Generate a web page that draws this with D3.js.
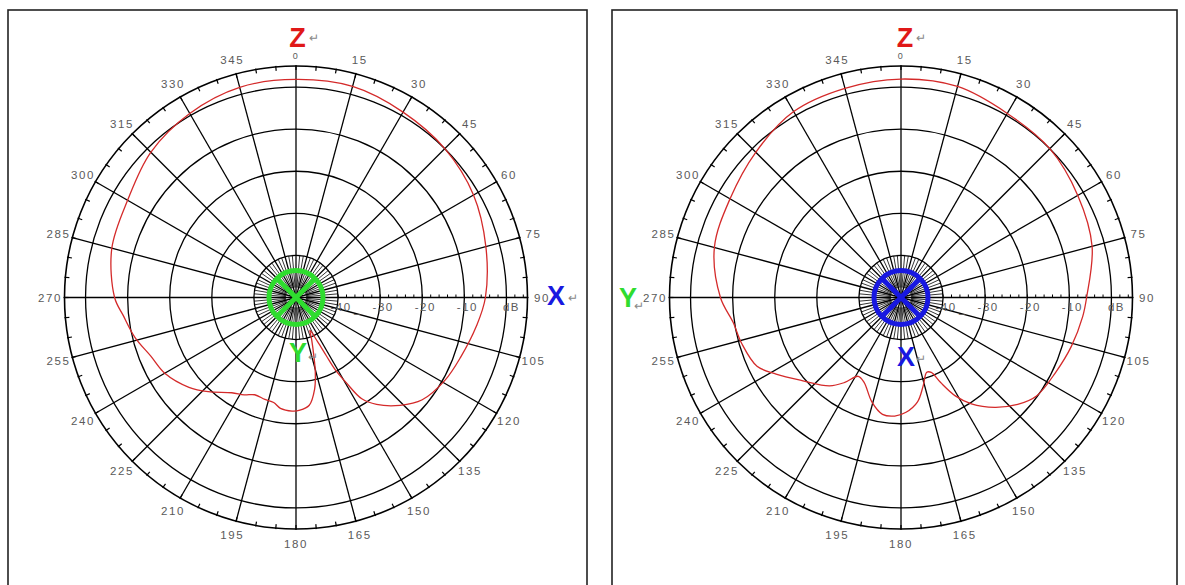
<!DOCTYPE html>
<html>
<head>
<meta charset="utf-8">
<script src="https://cdn.jsdelivr.net/npm/d3@7"></script>
<style>
  body { margin: 0; background: #fff; }
  svg { display: block; font-family: "Liberation Sans", Arial, sans-serif; }
</style>
</head>
<body>
<svg id="chart" width="1185" height="585"></svg>
<script>
// angle labels and dB rings
var angleTicks = d3.range(0, 360, 15);
var dbRings = [-40, -30, -20, -10, 0];
var dbLabels = ["-40", "-30", "-20", "-10", "dB"];

// left plot: Z-X plane (Y axis out of page)
var leftAngles = [0, 15, 30, 45, 60, 75, 90, 99, 110, 119, 129, 136, 143, 147, 149.5, 151.5, 152.5, 154, 157, 159.5, 163, 165.5, 168.5, 173, 178, 182, 188, 192, 197, 203, 208, 214, 223, 230, 240, 248, 256, 264, 270, 285, 300, 315, 330, 345];
var leftDb = [1.8, 1.9, 0.85, 0, -1.3, -3.3, -5.0, -6.6, -8.4, -9.5, -11.4, -14.4, -18.2, -21.3, -26.6, -30.6, -34.4, -38.4, -41.5, -39.4, -35.5, -31.7, -27.8, -24.2, -23.2, -23.0, -23.4, -24.5, -24.7, -24.9, -23.8, -22.7, -19.4, -16.8, -14.0, -12.8, -10.6, -8.75, -6.9, -4.7, -3.8, -1.2, 0.5, 1.7];

// right plot: Z-Y plane (X axis out of page)
var rightAngles = [0, 15, 30, 45, 60, 75, 90, 96, 106, 116, 126, 132.5, 139.5, 146.5, 151, 155, 158, 161, 166, 171, 177.5, 183, 189, 195.5, 203.5, 208.5, 213.5, 219, 230, 238.5, 244.5, 254, 261.5, 270, 285, 300, 315, 330, 345];
var rightDb = [1.9, 1.9, 0.5, 0, -1.5, -3.0, -5.9, -6.6, -7.9, -9.2, -10.2, -12.4, -15.7, -19.7, -23.2, -27.7, -30.8, -31.2, -28.3, -24.9, -22.7, -21.8, -21.9, -24.2, -28.0, -28.7, -25.8, -23.0, -19.3, -15.2, -12.1, -10.6, -9.7, -7.1, -4.1, -3.1, -1.2, 1.0, 1.45];

var svg = d3.select("#chart");
var rad = function(a) { return a * Math.PI / 180; };

var r = d3.scaleLinear().domain([-50, 5]).range([0, 231.5]);
var R = r(5);

// panel frames
svg.append("rect").attr("x", 8).attr("y", 10).attr("width", 579).attr("height", 590)
  .attr("fill", "none").attr("stroke", "#222").attr("stroke-width", 1.6);
svg.append("rect").attr("x", 612).attr("y", 10).attr("width", 565).attr("height", 590)
  .attr("fill", "none").attr("stroke", "#222").attr("stroke-width", 1.6);

function drawPanel(cx, cy, angles, dbs, markColor, axisLabels) {
  var g = svg.append("g").attr("transform", "translate(" + cx + "," + cy + ")");

  // rings
  g.selectAll(".ring").data(dbRings.concat([5])).enter().append("circle")
    .attr("r", function(d) { return r(d); })
    .attr("fill", "none").attr("stroke", "#000")
    .attr("stroke-width", function(d) { return d == 5 ? 1.6 : 1.3; });

  // spokes every 15 deg
  g.selectAll(".spoke").data(angleTicks).enter().append("line")
    .attr("x1", 0).attr("y1", 0)
    .attr("x2", function(d) { return R * Math.sin(rad(d)); })
    .attr("y2", function(d) { return -R * Math.cos(rad(d)); })
    .attr("stroke", "#000").attr("stroke-width", 1.3);

  // fine spokes inside the -40 ring
  g.selectAll(".fine").data(d3.range(0, 360, 5).filter(function(d) { return d % 15 != 0; }))
    .enter().append("line")
    .attr("x1", function(d) { return 10 * Math.sin(rad(d)); })
    .attr("y1", function(d) { return -10 * Math.cos(rad(d)); })
    .attr("x2", function(d) { return r(-40) * Math.sin(rad(d)); })
    .attr("y2", function(d) { return -r(-40) * Math.cos(rad(d)); })
    .attr("stroke", "#000").attr("stroke-width", 0.8);

  // ticks on outer ring
  g.selectAll(".otick").data(d3.range(0, 360, 5)).enter().append("line")
    .attr("x1", function(d) { return (R - 4) * Math.sin(rad(d)); })
    .attr("y1", function(d) { return -(R - 4) * Math.cos(rad(d)); })
    .attr("x2", function(d) { return (R + 1) * Math.sin(rad(d)); })
    .attr("y2", function(d) { return -(R + 1) * Math.cos(rad(d)); })
    .attr("stroke", "#000").attr("stroke-width", 1.2);

  // small ticks along the 90 deg radial axis
  g.selectAll(".rtick").data(d3.range(-40, 5, 2)).enter().append("line")
    .attr("x1", function(d) { return r(d); }).attr("x2", function(d) { return r(d); })
    .attr("y1", -3).attr("y2", 0)
    .attr("stroke", "#000").attr("stroke-width", 1);

  // angle labels
  g.selectAll(".alab").data(angleTicks).enter().append("text")
    .attr("x", function(d) { return (d == 0 ? 242 : 246) * Math.sin(rad(d)); })
    .attr("y", function(d) { return -(d == 0 ? 242 : 246) * Math.cos(rad(d)); })
    .attr("dy", "0.35em")
    .attr("text-anchor", "middle")
    .attr("font-size", function(d) { return d == 0 ? 9 : 11.5; })
    .attr("letter-spacing", 1.6)
    .attr("fill", "#5a5a5a")
    .text(function(d) { return d; });

  // dB labels
  g.selectAll(".dblab").data(dbRings).enter().append("text")
    .attr("x", function(d, i) { return r(d) + (i == 4 ? 5 : 3); })
    .attr("y", 13)
    .attr("text-anchor", "middle")
    .attr("font-size", 11.5)
    .attr("letter-spacing", 1.5)
    .attr("fill", "#5a5a5a")
    .text(function(d, i) { return dbLabels[i]; });
  g.append("text").attr("x", r(-35) - 2).attr("y", 15).attr("text-anchor", "middle")
    .attr("font-size", 11).attr("fill", "#555").text("_");

  // pattern
  var pts = angles.map(function(a, i) { return [rad(a), r(dbs[i])]; });
  g.append("path").datum(pts)
    .attr("d", d3.lineRadial().curve(d3.curveCatmullRomClosed.alpha(0.5)))
    .attr("fill", "none").attr("stroke", "#d42a2a").attr("stroke-width", 1.3);

  // center marker (axis pointing out of page)
  g.append("circle").attr("r", 27).attr("fill", "none")
    .attr("stroke", markColor).attr("stroke-width", 5);
  var k = 27 * Math.SQRT1_2;
  g.append("line").attr("x1", -k).attr("y1", -k).attr("x2", k).attr("y2", k)
    .attr("stroke", markColor).attr("stroke-width", 5);
  g.append("line").attr("x1", k).attr("y1", -k).attr("x2", -k).attr("y2", k)
    .attr("stroke", markColor).attr("stroke-width", 5);

  // axis letters
  axisLabels.forEach(function(l) {
    g.append("text").attr("x", l.x).attr("y", l.y).attr("dy", "0.36em")
      .attr("text-anchor", "middle").attr("font-size", 27).attr("font-weight", "bold")
      .attr("fill", l.color).text(l.t);
    g.append("text").attr("x", l.x + l.ax).attr("y", l.y + l.ay)
      .attr("font-size", 12).attr("fill", "#888").text("\u21B5");
  });
}

drawPanel(296, 297.5, leftAngles, leftDb, "#2fdc2f", [
  { t: "Z", x: 1.5, y: -260, color: "#e01818", ax: 11, ay: 4 },
  { t: "X", x: 260, y: -2, color: "#1818e0", ax: 12, ay: 6 },
  { t: "Y", x: 2, y: 55, color: "#2fdc2f", ax: 10, ay: 8 }
]);
drawPanel(901, 297.5, rightAngles, rightDb, "#1818e0", [
  { t: "Z", x: 4, y: -260, color: "#e01818", ax: 11, ay: 4 },
  { t: "Y", x: -273, y: 0, color: "#2fdc2f", ax: 6, ay: 12 },
  { t: "X", x: 5, y: 59, color: "#1818e0", ax: 10, ay: 6 }
]);
</script>
</body>
</html>
